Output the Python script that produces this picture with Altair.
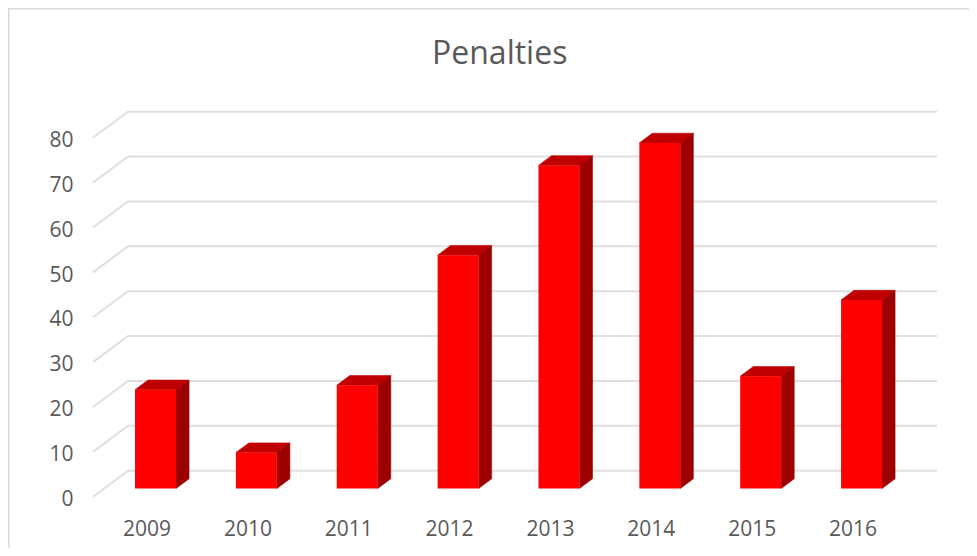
import altair as alt
import pandas as pd

years = [2009, 2010, 2011, 2012, 2013, 2014, 2015, 2016]
values = [22, 8, 23, 52, 72, 77, 25, 42]
grid_values = [0, 10, 20, 30, 40, 50, 60, 70, 80]

FONT = "Open Sans"
TEXT = "#595959"
GRID = "#dfdfdf"
BORDER = "#d9d9d9"

# scale geometry (in data units)
X_DOMAIN = [2008.38, 2016.748]
Y_DOMAIN = [-4.791, 86.57]
HALF = 0.2033      # half bar width, years
DX = 0.1289        # bar depth, years
DY = 2.16          # bar depth, value units
FLOOR_FRONT = -1.83
FLOOR_BACK = 3.97
WALL_X = X_DOMAIN[0] + 0.347

front, top, side, grid = [], [], [], []
for yr, v in zip(years, values):
    x0, x1 = yr - HALF, yr + HALF
    front.append(dict(x0=x0, x1=x1, v=v))
    for x, lo, hi in [(x0, v, v), (x0 + DX, v, v + DY), (x1, v, v + DY), (x1 + DX, v + DY, v + DY)]:
        top.append(dict(bar=yr, x=x, lo=lo, hi=hi))
    for x, lo, hi in [(x1, 0, v), (x1 + DX, DY, v + DY)]:
        side.append(dict(bar=yr, x=x, lo=lo, hi=hi))
for g in grid_values:
    for i, (x, y) in enumerate([(X_DOMAIN[0], g + FLOOR_FRONT), (WALL_X, g + FLOOR_BACK), (X_DOMAIN[1], g + FLOOR_BACK)]):
        grid.append(dict(level=g, i=i, x=x, y=y))

xs = alt.Scale(domain=X_DOMAIN, nice=False, zero=False)
ys = alt.Scale(domain=Y_DOMAIN, nice=False, zero=False)

x_axis = alt.Axis(values=years, format="d", title=None, grid=False, domain=False, ticks=False,
                  labelFont=FONT, labelFontSize=21, labelColor=TEXT, labelPadding=8,
                  labelOffset=-9, labelFlush=False, labelOverlap=False)
y_axis = alt.Axis(values=grid_values, title=None, grid=False, domain=False, ticks=False,
                  labelFont=FONT, labelFontSize=21, labelColor=TEXT, labelPadding=20,
                  labelOffset=11, labelOverlap=False)

grid_layer = alt.Chart(pd.DataFrame(grid)).mark_line(color=GRID, strokeWidth=2).encode(
    x=alt.X("x:Q", scale=xs, axis=x_axis),
    y=alt.Y("y:Q", scale=ys, axis=y_axis),
    detail="level:N",
    order="i:Q",
)

top_layer = alt.Chart(pd.DataFrame(top)).mark_area(color="#c00000", orient="vertical", stroke="#c00000", strokeWidth=0.6).encode(
    x=alt.X("x:Q", scale=xs), y=alt.Y("lo:Q", scale=ys, stack=None),
    y2=alt.Y2("hi"), detail="bar:N")
side_layer = alt.Chart(pd.DataFrame(side)).mark_area(color="#9c0000", orient="vertical", stroke="#9c0000", strokeWidth=0.6).encode(
    x=alt.X("x:Q", scale=xs), y=alt.Y("lo:Q", scale=ys, stack=None),
    y2=alt.Y2("hi"), detail="bar:N")
front_layer = alt.Chart(pd.DataFrame(front)).mark_bar(color="#ff0000").encode(
    x=alt.X("x0:Q", scale=xs), x2="x1:Q", y=alt.Y("v:Q", scale=ys), y2=alt.datum(0))

border_left = alt.Chart(pd.DataFrame({"a": [0]})).mark_rule(color=BORDER, strokeWidth=2).encode(
    x=alt.value(-84.5), y=alt.value(-92), y2=alt.value(456))
border_top = alt.Chart(pd.DataFrame({"a": [0]})).mark_rule(color=BORDER, strokeWidth=2).encode(
    x=alt.value(-85), x2=alt.value(876), y=alt.value(-92 + 0.5))

chart = alt.layer(border_left, border_top, grid_layer, top_layer, side_layer, front_layer).properties(
    width=844, height=410,
    padding={"left": 85, "top": 92, "right": 32, "bottom": 38},
    autosize=alt.AutoSizeParams(type="none"),
    title=alt.TitleParams("Penalties", font=FONT, fontSize=32, fontWeight="normal", color=TEXT,
                          anchor="start", dx=425, offset=-64),
).configure_view(stroke=None)

chart.save("out.html", embed_options={"renderer": "svg", "actions": False})
